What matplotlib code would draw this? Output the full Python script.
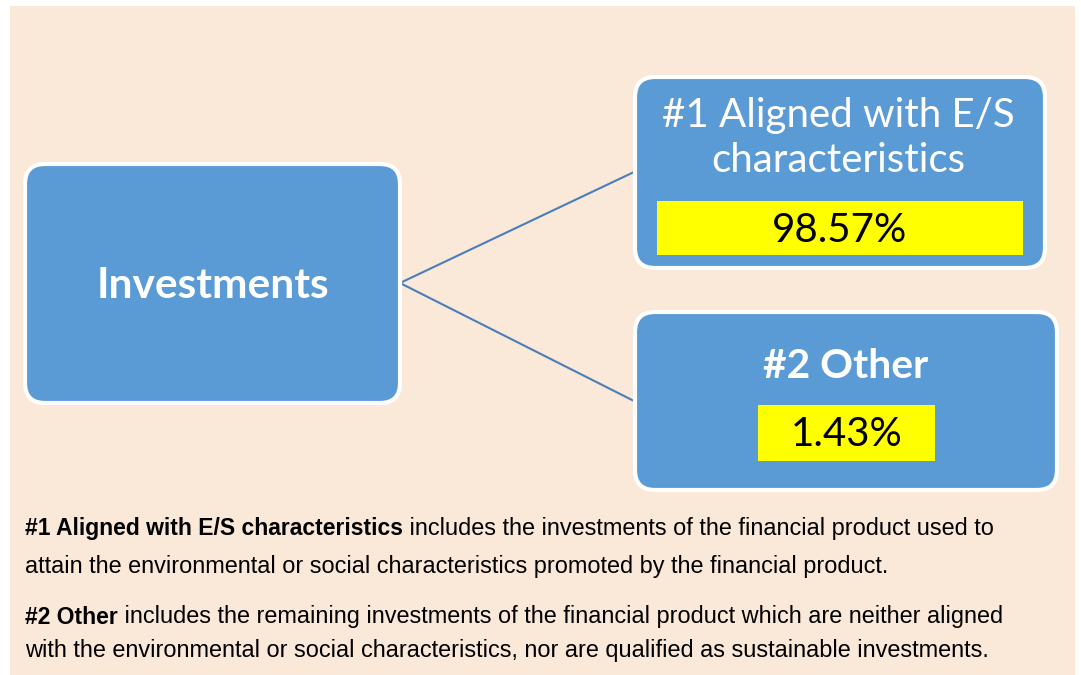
import matplotlib.pyplot as plt
from matplotlib.patches import FancyBboxPatch, Rectangle

root_label = "Investments"
branch_labels = ["#1 Aligned with E/S\ncharacteristics", "#2 Other"]
branch_bold = [False, True]
shares = [98.57, 1.43]

notes_bold = ["#1 Aligned with E/S characteristics", "#2 Other"]
notes_rest = [
    [" includes the investments of the financial product used to",
     "attain the environmental or social characteristics promoted by the financial product."],
    [" includes the remaining investments of the financial product which are neither aligned",
     "with the environmental or social characteristics, nor are qualified as sustainable investments."],
]

BG = "#FAE8D8"
BOX = "#5B9BD5"
LINE = "#4A7EBB"
FONT = "Lato"

fig = plt.figure(figsize=(10.81, 6.75), dpi=100)
ax = fig.add_axes([0, 0, 1, 1])
ax.set_xlim(0, 1081)
ax.set_ylim(675, 0)
ax.axis("off")

ax.add_patch(Rectangle((10, 6), 1065, 670, facecolor=BG, edgecolor="none"))


def box(x0, y0, x1, y1, r=20):
    ax.add_patch(FancyBboxPatch((x0 + r, y0 + r), x1 - x0 - 2 * r, y1 - y0 - 2 * r,
                                boxstyle=f"round,pad={r}", facecolor=BOX,
                                edgecolor="white", linewidth=3, zorder=2))


# connector lines
ax.plot([400, 634], [283, 172], color=LINE, lw=1.5, zorder=1)
ax.plot([400, 636], [283, 402], color=LINE, lw=1.5, zorder=1)

# root box
box(25, 164, 400, 403)
ax.text(213, 286, root_label, color="white", fontsize=30.5, fontweight="bold",
        family=FONT, ha="center", va="center", zorder=3)

# branch boxes
boxes = [(635, 77, 1045, 268), (635, 312, 1057, 490)]
label_y = [138, 366]
label_x = [838, 846]
label_size = [29, 29.3]
yellow = [(657, 201, 1023, 255), (758, 405, 935, 461)]
for i in range(2):
    x0, y0, x1, y1 = boxes[i]
    box(x0, y0, x1, y1)
    ax.text(label_x[i], label_y[i], branch_labels[i], color="white", fontsize=label_size[i],
            fontweight="bold" if branch_bold[i] else "normal", family=FONT,
            ha="center", va="center", linespacing=1.3, zorder=3)
    yx0, yy0, yx1, yy1 = yellow[i]
    ax.add_patch(Rectangle((yx0, yy0), yx1 - yx0, yy1 - yy0, facecolor="#FFFF00",
                           edgecolor="none", zorder=3))
    ax.text((yx0 + yx1) / 2, (yy0 + yy1) / 2 + 2, f"{shares[i]:.2f}%", color="black",
            fontsize=29, family=FONT, ha="center", va="center", zorder=4)

# footnotes
fig.canvas.draw()
renderer = fig.canvas.get_renderer()
note_y = [[528, 566], [617, 651]]
for i in range(2):
    t = ax.text(25, note_y[i][0], notes_bold[i], fontsize=16.5, fontweight="bold",
                family="Liberation Sans", color="black", va="center", ha="left")
    bb = t.get_window_extent(renderer)
    xend = ax.transData.inverted().transform((bb.x1, bb.y0))[0]
    ax.text(xend, note_y[i][0], notes_rest[i][0], fontsize=16.9,
            family="Liberation Sans", color="black", va="center", ha="left")
    ax.text(25, note_y[i][1], notes_rest[i][1], fontsize=16.9,
            family="Liberation Sans", color="black", va="center", ha="left")

fig.savefig("out.png", dpi=100, facecolor="white")
